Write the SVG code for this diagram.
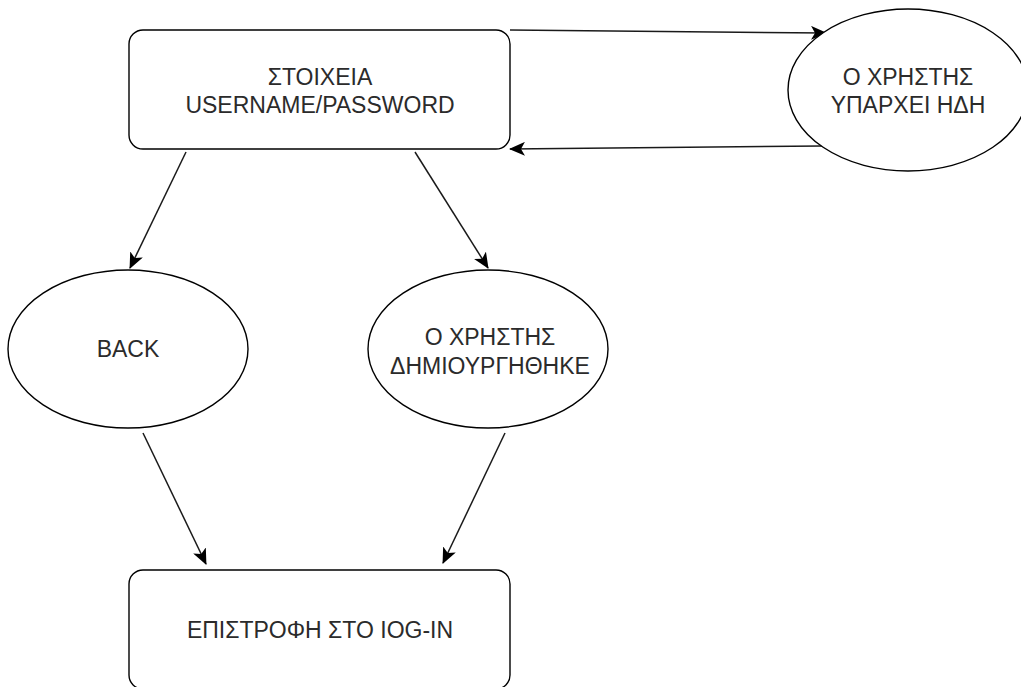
<svg xmlns="http://www.w3.org/2000/svg" width="1021" height="687" viewBox="0 0 1021 687">
  <style>
    .shape { fill: #ffffff; stroke: #000000; stroke-width: 1.4; }
    .edge { fill: none; stroke: #1a1a1a; stroke-width: 1.5; }
    .label { font-family: "Liberation Sans", Arial, sans-serif; font-size: 23px; fill: #2b2b2b; text-anchor: middle; }
  </style>
  <defs>
    <marker id="arrow" markerUnits="userSpaceOnUse" viewBox="0 0 16 14" refX="15" refY="7" markerWidth="16" markerHeight="14" orient="auto">
      <path d="M0,0 L16,7 L0,14 L4,7 Z" fill="#000000"/>
    </marker>
  </defs>
  <rect width="1021" height="687" fill="#ffffff"/>

  <!-- connectors -->
  <g id="connectors">
    <line class="edge" x1="186" y1="152" x2="130" y2="268" marker-end="url(#arrow)"/>
    <line class="edge" x1="415" y1="152" x2="488" y2="268" marker-end="url(#arrow)"/>
    <line class="edge" x1="510" y1="30" x2="826" y2="33" marker-end="url(#arrow)"/>
    <line class="edge" x1="822" y1="146" x2="510" y2="149" marker-end="url(#arrow)"/>
    <line class="edge" x1="143" y1="433" x2="206" y2="564" marker-end="url(#arrow)"/>
    <line class="edge" x1="505" y1="433" x2="443" y2="563" marker-end="url(#arrow)"/>
  </g>

  <!-- nodes -->
  <g id="node-credentials">
    <rect class="shape" x="129" y="30" width="381" height="119" rx="14" ry="14"/>
    <text class="label" x="320" y="85">ΣΤΟΙΧΕΙΑ</text>
    <text class="label" x="320" y="113">USERNAME/PASSWORD</text>
  </g>

  <g id="node-user-exists">
    <ellipse class="shape" cx="908" cy="90" rx="120" ry="81"/>
    <text class="label" x="908" y="85">Ο ΧΡΗΣΤΗΣ</text>
    <text class="label" x="908" y="113">ΥΠΑΡΧΕΙ ΗΔΗ</text>
  </g>

  <g id="node-back">
    <ellipse class="shape" cx="128" cy="349" rx="120" ry="79"/>
    <text class="label" x="128" y="357">BACK</text>
  </g>

  <g id="node-user-created">
    <ellipse class="shape" cx="488" cy="349" rx="120" ry="79"/>
    <text class="label" x="490" y="345">Ο ΧΡΗΣΤΗΣ</text>
    <text class="label" x="490" y="374">ΔΗΜΙΟΥΡΓΗΘΗΚΕ</text>
  </g>

  <g id="node-return-login">
    <rect class="shape" x="129" y="570" width="381" height="119" rx="14" ry="14"/>
    <text class="label" x="320" y="638">ΕΠΙΣΤΡΟΦΗ ΣΤΟ IOG-IN</text>
  </g>
</svg>
